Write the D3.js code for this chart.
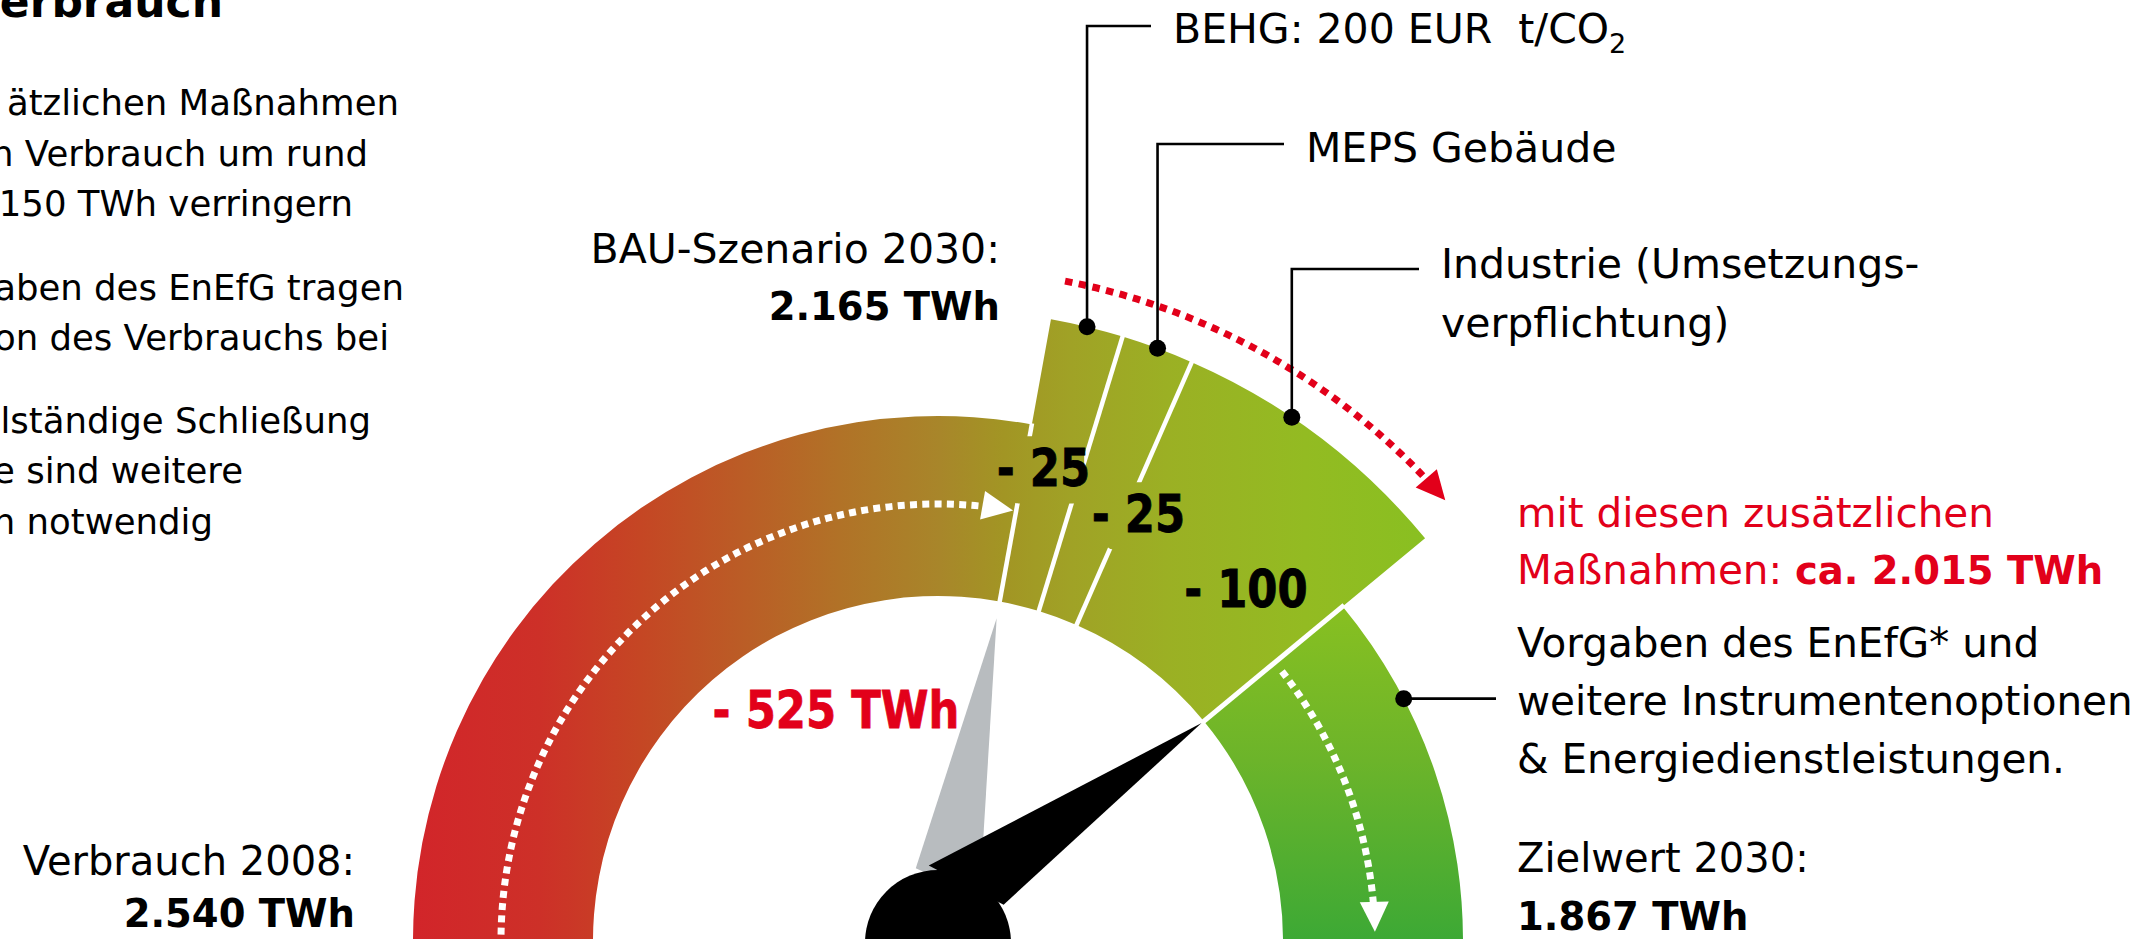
<!DOCTYPE html>
<html><head><meta charset="utf-8">
<script src="https://cdn.jsdelivr.net/npm/d3@7"></script>
<style>
html,body{margin:0;padding:0;background:#fff;overflow:hidden;}
svg{display:block;}
text{font-family:"DejaVu Sans",sans-serif;white-space:pre;}
</style></head><body>
<svg id="chart" width="2154" height="939"></svg>
<script>
// ---------------- data ----------------
const consumption2008 = 2540;          // TWh
const bauScenario2030 = 2165;          // TWh
const target2030 = 1867;               // TWh
const measureNames = ["BEHG: 200 EUR  t/CO", "MEPS Gebäude", "Industrie (Umsetzungs-|verpflichtung)"];
const measureValues = [-25, -25, -100];
const remainingNote = ["Vorgaben des EnEfG* und", "weitere Instrumentenoptionen", "& Energiedienstleistungen."];
const introLines = [
  "ätzlichen Maßnahmen", "n Verbrauch um rund", " 150 TWh verringern",
  "aben des EnEfG tragen", "on des Verbrauchs bei",
  "lständige Schließung", "e sind weitere", "n notwendig"
];
const titleText = "Verbrauch";

// ---------------- layout ----------------
const W = 2154, H = 939;
const cx = 938, cy = 941;
const rIn = 345, rOut = 525, rExt = 632, rDots = 437, rRed = 672;
const RED = "#e2001a";

const fmt = d3.formatLocale({decimal: ",", thousands: ".", grouping: [3], currency: ["", ""]}).format(",d");

const angle = d3.scaleLinear().domain([consumption2008, target2030]).range([-90, 90]);
const rad = deg => deg * Math.PI / 180;
const polarA = (deg, r) => [cx + r * Math.sin(rad(deg)), cy - r * Math.cos(rad(deg))];
const polar = (v, r) => polarA(angle(v), r);

let cur = bauScenario2030;
const segments = measureValues.map((m, i) => {
  const s = {name: measureNames[i], value: m, from: cur, to: cur + m};
  cur += m; return s;
});
const withMeasures = cur; // 2015

const svg = d3.select("#chart");
const defs = svg.append("defs");

const mainStops = [
  [413, "#d2252a"], [540, "#cd3028"], [640, "#c54624"], [740, "#bb5c26"],
  [840, "#b17227"], [940, "#a8862a"], [1003, "#a29524"], [1071, "#a0a226"],
  [1168, "#9bb024"], [1305, "#93bb22"], [1440, "#88c021"]
];
const greenStops = [[606, "#88c021"], [760, "#6cb42a"], [939, "#3da935"]];
function hGrad(id, tr) {
  const gr = defs.append("linearGradient").attr("id", id)
    .attr("gradientUnits", "userSpaceOnUse").attr("x1", 413).attr("y1", 0).attr("x2", 1440).attr("y2", 0);
  if (tr) gr.attr("gradientTransform", tr);
  mainStops.forEach(([x, c]) => gr.append("stop").attr("offset", (x - 413) / (1440 - 413)).attr("stop-color", c));
}
hGrad("gMain", `translate(${-cx},${-cy})`);
hGrad("gMainAbs", null);
const gGreen = defs.append("linearGradient").attr("id", "gGreen")
  .attr("gradientUnits", "userSpaceOnUse").attr("x1", 0).attr("y1", 606).attr("x2", 0).attr("y2", 939)
  .attr("gradientTransform", `translate(${-cx},${-cy})`);
greenStops.forEach(([y, c]) => gGreen.append("stop").attr("offset", (y - 606) / (939 - 606)).attr("stop-color", c));

const g = svg.append("g");
const arc = d3.arc();
const arcPath = (a0, a1, r0, r1) => arc({innerRadius: r0, outerRadius: r1, startAngle: rad(a0), endAngle: rad(a1)});
const arcs = g.append("g").attr("transform", `translate(${cx},${cy})`);

arcs.append("path").attr("d", arcPath(angle(consumption2008) - 2, angle(bauScenario2030), rIn, rOut)).attr("fill", "url(#gMain)");
segments.forEach(s => {
  arcs.append("path").attr("d", arcPath(angle(s.from), angle(s.to), rIn, rExt)).attr("fill", "url(#gMain)");
});
arcs.append("path").attr("d", arcPath(angle(withMeasures), angle(target2030) + 2, rIn, rOut)).attr("fill", "url(#gGreen)");

// white separators
const sepValues = [[bauScenario2030, rOut + 1], ...segments.slice(0, -1).map(s => [s.to, rExt + 2]), [withMeasures, rOut + 2]];
sepValues.forEach(([v, r1], i) => {
  const p0 = polar(v, rIn - 3), p1 = polar(v, r1);
  g.append("line").attr("x1", p0[0]).attr("y1", p0[1]).attr("x2", p1[0]).attr("y2", p1[1])
    .attr("stroke", "#fff").attr("stroke-width", i === sepValues.length - 1 ? 5 : 4.5);
});

// dotted arcs with arrow heads
function dottedArc(a0, a1, r, color, width, dash, aLen, aW) {
  const tip = polarA(a1, r);
  const t = [Math.cos(rad(a1)), Math.sin(rad(a1))];
  const base = [tip[0] - aLen * t[0], tip[1] - aLen * t[1]];
  const n = [-t[1], t[0]];
  const baseAngle = a1 - (aLen / r) * 180 / Math.PI;
  const p = d3.path();
  p.arc(cx, cy, r, rad(a0 - 90), rad(baseAngle + 1 - 90), false);
  g.append("path").attr("d", p.toString()).attr("fill", "none").attr("stroke", color)
    .attr("stroke-width", width).attr("stroke-dasharray", dash);
  g.append("path").attr("d", `M${tip}L${base[0] + n[0] * aW / 2},${base[1] + n[1] * aW / 2}L${base[0] - n[0] * aW / 2},${base[1] - n[1] * aW / 2}Z`)
    .attr("fill", color);
}
dottedArc(angle(consumption2008) - 4, angle(bauScenario2030) - 0.4, rDots, "#fff", 7, "7 5.3", 31, 29);
dottedArc(angle(withMeasures) + 1.5, angle(target2030) - 1.2, rDots, "#fff", 7, "7 5.3", 30, 29);
dottedArc(angle(bauScenario2030) + 0.6, angle(withMeasures) - 1.4, rRed, RED, 7, "7.5 6.5", 29, 28);

const CONDENSE = 0.85;
function heavyText(parent, x, y, str, size, color) {
  return parent.append("text").attr("transform", `translate(${x},${y}) scale(${CONDENSE},1)`)
    .attr("text-anchor", "middle").attr("font-size", size).attr("font-weight", "bold")
    .attr("fill", color).attr("stroke", color).attr("stroke-width", 0.8).text(str);
}

// segment labels with background boxes
const segLabelLayout = [{dA: -1.08, r: 485}, {dA: 4.8, r: 472}, {dA: 4.1, r: 468}];
segments.forEach((s, i) => {
  const mid = (s.from + s.to) / 2;
  const L = segLabelLayout[i];
  const c = polarA(angle(mid) + L.dA, L.r);
  const grp = g.append("g");
  const rect = grp.append("rect");
  const txt = heavyText(grp, c[0], c[1] + 18, "- " + fmt(Math.abs(s.value)), 51, "#000");
  const bb = txt.node().getBBox();
  rect.attr("x", c[0] + bb.x * CONDENSE + 12).attr("y", c[1] + 18 + bb.y - 2)
    .attr("width", bb.width * CONDENSE - 18).attr("height", bb.height + 8)
    .attr("rx", 10).attr("fill", "url(#gMainAbs)");
});

heavyText(g, 836, 728, "- " + fmt(consumption2008 - withMeasures) + " TWh", 51, RED);

// needles
function needle(v, tipR, b1, b2, color) {
  const tip = polar(v, tipR), p1 = polarA(b1[0], b1[1]), p2 = polarA(b2[0], b2[1]);
  g.append("path").attr("d", `M${tip}L${p1}L${p2}Z`).attr("fill", color);
}
needle(bauScenario2030, 328, [-17, 76], [44, 60], "#b8bcbf");
needle(withMeasures, 342, [-7, 76], [61, 75], "#000");
g.append("circle").attr("cx", cx).attr("cy", cy + 2).attr("r", 73).attr("fill", "#000");

// leader annotations
const ann = g.append("g");
function leader(anchor, lineY, endX) {
  ann.append("path").attr("d", `M${anchor[0]},${anchor[1]}V${lineY}H${endX}`)
    .attr("fill", "none").attr("stroke", "#000").attr("stroke-width", 2.6);
  ann.append("circle").attr("cx", anchor[0]).attr("cy", anchor[1]).attr("r", 8.5).attr("fill", "#000");
}
const annLayout = [
  {dA: 0, lineY: 26, textX: 1173, base: 43},
  {dA: 0, lineY: 144, textX: 1306, base: 162},
  {dA: -3, lineY: 269, textX: 1441, base: 278}
];
segments.forEach((s, i) => {
  const L = annLayout[i];
  const a = polarA(angle((s.from + s.to) / 2) + L.dA, rExt);
  leader(a, L.lineY, L.textX - 22);
  const lines = s.name.split("|");
  const t = ann.append("text").attr("x", L.textX).attr("y", L.base).attr("font-size", 41).attr("fill", "#000");
  lines.forEach((ln, j) => {
    t.append("tspan").attr("x", L.textX).attr("dy", j === 0 ? 0 : 59).text(ln);
  });
  if (i === 0) t.append("tspan").attr("font-size", 27).attr("dy", 10).text("2");
});
{
  const mid = (withMeasures + target2030) / 2;
  const a = polarA(angle(mid) - 7.7, rOut);
  ann.append("path").attr("d", `M${a[0]},${a[1]}H1496`).attr("fill", "none").attr("stroke", "#000").attr("stroke-width", 2.6);
  ann.append("circle").attr("cx", a[0]).attr("cy", a[1]).attr("r", 8.5).attr("fill", "#000");
}

// right column text
const right = g.append("g").attr("font-size", 40.5);
right.append("text").attr("x", 1517).attr("y", 527).attr("fill", RED).text("mit diesen zusätzlichen");
{
  const t = right.append("text").attr("x", 1517).attr("y", 584).attr("fill", RED);
  t.append("tspan").text("Maßnahmen: ");
  t.append("tspan").attr("font-weight", "bold").attr("font-size", 38.5).text("ca. " + fmt(withMeasures) + " TWh");
}
remainingNote.forEach((ln, i) => right.append("text").attr("x", 1517).attr("y", 657 + i * 58).attr("fill", "#000").text(ln));
right.append("text").attr("x", 1517).attr("y", 872).attr("font-size", 40).attr("fill", "#000").text("Zielwert 2030:");
right.append("text").attr("x", 1517).attr("y", 930).attr("font-size", 38.5).attr("font-weight", "bold").attr("fill", "#000").text(fmt(target2030) + " TWh");

// BAU label
g.append("text").attr("x", 1000).attr("y", 263).attr("text-anchor", "end").attr("font-size", 41).attr("fill", "#000").text("BAU-Szenario 2030:");
g.append("text").attr("x", 1000).attr("y", 320).attr("text-anchor", "end").attr("font-size", 38.5).attr("font-weight", "bold").attr("fill", "#000").text(fmt(bauScenario2030) + " TWh");

// 2008 label
g.append("text").attr("x", 355).attr("y", 875).attr("text-anchor", "end").attr("font-size", 40).attr("fill", "#000").text("Verbrauch 2008:");
g.append("text").attr("x", 355).attr("y", 927).attr("text-anchor", "end").attr("font-size", 38.5).attr("font-weight", "bold").attr("fill", "#000").text(fmt(consumption2008) + " TWh");

// top-left text (cropped at the edge, as in the original)
g.append("text").attr("x", 223).attr("y", 17).attr("text-anchor", "end").attr("font-size", 44).attr("font-weight", "bold").attr("fill", "#000").text(titleText);
const introBase = [115, 166, 216, 300, 350, 433, 483, 534];
const introEnd = [399, 368, 353, 404, 389, 371, 243, 213];
introLines.forEach((ln, i) => {
  g.append("text").attr("x", introEnd[i]).attr("y", introBase[i]).attr("text-anchor", "end")
    .attr("font-size", 35.5).attr("fill", "#000").text(ln);
});
</script>
</body></html>
